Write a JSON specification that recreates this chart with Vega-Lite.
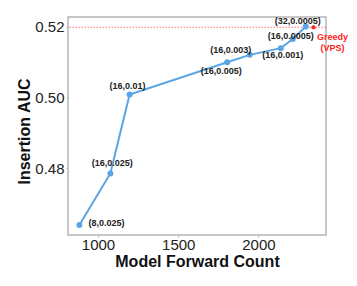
{
  "$schema": "https://vega.github.io/schema/vega-lite/v6.json",
  "width": 258,
  "height": 218,
  "autosize": {"type": "none"},
  "padding": {"left": 68, "top": 17, "right": 31, "bottom": 51},
  "config": {
    "font": "Liberation Sans",
    "view": {"stroke": "#b5b5b5", "strokeWidth": 1.5},
    "axis": {"grid": false, "domain": false, "tickColor": "#b5b5b5", "tickSize": 2, "labelFont": "Liberation Sans", "titleFont": "Liberation Sans", "labelColor": "#222", "titleColor": "#111", "labelFontSize": 15, "titleFontSize": 16, "titleFontWeight": "bold", "labelPadding": 2}
  },
  "datasets": {
    "curve": [
      {"x": 884, "y": 0.4639, "label": "(8,0.025)"},
      {"x": 1077, "y": 0.4785, "label": "(16,0.025)"},
      {"x": 1197, "y": 0.5008, "label": "(16,0.01)"},
      {"x": 1805, "y": 0.5099, "label": "(16,0.005)"},
      {"x": 1946, "y": 0.5120, "label": "(16,0.003)"},
      {"x": 2139, "y": 0.5139, "label": "(16,0.001)"},
      {"x": 2214, "y": 0.5165, "label": "(16,0.0005)"},
      {"x": 2295, "y": 0.5200, "label": "(32,0.0005)"}
    ],
    "greedy": [{"x": 2343, "y": 0.5198, "label": "Greedy"}]
  },
  "encoding": {
    "x": {"field": "x", "type": "quantitative", "scale": {"domain": [813, 2421], "nice": false, "zero": false}, "axis": {"values": [1000, 1500, 2000], "format": "d", "labelPadding": 0, "title": "Model Forward Count", "titleY": 31, "titleBaseline": "alphabetic"}},
    "y": {"field": "y", "type": "quantitative", "scale": {"domain": [0.4611, 0.5227], "nice": false, "zero": false}, "axis": {"values": [0.48, 0.5, 0.52], "format": ".2f", "title": "Insertion AUC", "titleX": -38.4, "titleY": 114, "titleBaseline": "alphabetic", "titleAngle": -90}}
  },
  "layer": [
    {"data": {"name": "greedy"}, "mark": {"type": "rule", "color": "#ff4d4d", "strokeWidth": 0.8, "strokeDash": [1.5, 1.5]}, "encoding": {"x": null, "y": {"field": "y", "type": "quantitative"}}},
    {"data": {"name": "curve"}, "mark": {"type": "line", "color": "#5aa5e3", "strokeWidth": 2, "point": {"filled": true, "size": 36, "color": "#5aa5e3"}}},
    {"data": {"name": "greedy"}, "mark": {"type": "point", "filled": true, "size": 18, "color": "#ff2222", "opacity": 1}},
    {"data": {"name": "greedy"}, "mark": {"type": "text", "text": ["Greedy", "(VPS)"], "color": "#ff2222", "fontWeight": "bold", "fontSize": 9, "align": "center", "baseline": "middle", "lineHeight": 10.4, "dx": 19, "dy": 10}},
    {"data": {"name": "curve"}, "transform": [{"filter": {"field": "label", "equal": "(8,0.025)"}}], "mark": {"type": "text", "fontWeight": "bold", "fontSize": 9, "color": "#222", "align": "left", "baseline": "middle", "dx": 9, "dy": -2}, "encoding": {"text": {"field": "label"}}},
    {"data": {"name": "curve"}, "transform": [{"filter": {"field": "label", "equal": "(16,0.025)"}}], "mark": {"type": "text", "fontWeight": "bold", "fontSize": 9, "color": "#222", "align": "center", "baseline": "middle", "dx": 2, "dy": -10}, "encoding": {"text": {"field": "label"}}},
    {"data": {"name": "curve"}, "transform": [{"filter": {"field": "label", "equal": "(16,0.01)"}}], "mark": {"type": "text", "fontWeight": "bold", "fontSize": 9, "color": "#222", "align": "center", "baseline": "middle", "dx": -2, "dy": -9}, "encoding": {"text": {"field": "label"}}},
    {"data": {"name": "curve"}, "transform": [{"filter": {"field": "label", "equal": "(16,0.005)"}}], "mark": {"type": "text", "fontWeight": "bold", "fontSize": 9, "color": "#222", "align": "center", "baseline": "middle", "dx": -6, "dy": 9}, "encoding": {"text": {"field": "label"}}},
    {"data": {"name": "curve"}, "transform": [{"filter": {"field": "label", "equal": "(16,0.003)"}}], "mark": {"type": "text", "fontWeight": "bold", "fontSize": 9, "color": "#222", "align": "center", "baseline": "middle", "dx": -19, "dy": -5}, "encoding": {"text": {"field": "label"}}},
    {"data": {"name": "curve"}, "transform": [{"filter": {"field": "label", "equal": "(16,0.001)"}}], "mark": {"type": "text", "fontWeight": "bold", "fontSize": 9, "color": "#222", "align": "center", "baseline": "middle", "dx": 2, "dy": 7}, "encoding": {"text": {"field": "label"}}},
    {"data": {"name": "curve"}, "transform": [{"filter": {"field": "label", "equal": "(16,0.0005)"}}], "mark": {"type": "text", "fontWeight": "bold", "fontSize": 9, "color": "#222", "align": "center", "baseline": "middle", "dx": -2, "dy": -3}, "encoding": {"text": {"field": "label"}}},
    {"data": {"name": "curve"}, "transform": [{"filter": {"field": "label", "equal": "(32,0.0005)"}}], "mark": {"type": "text", "fontWeight": "bold", "fontSize": 9, "color": "#222", "align": "center", "baseline": "middle", "dx": -8, "dy": -6}, "encoding": {"text": {"field": "label"}}}
  ]
}
